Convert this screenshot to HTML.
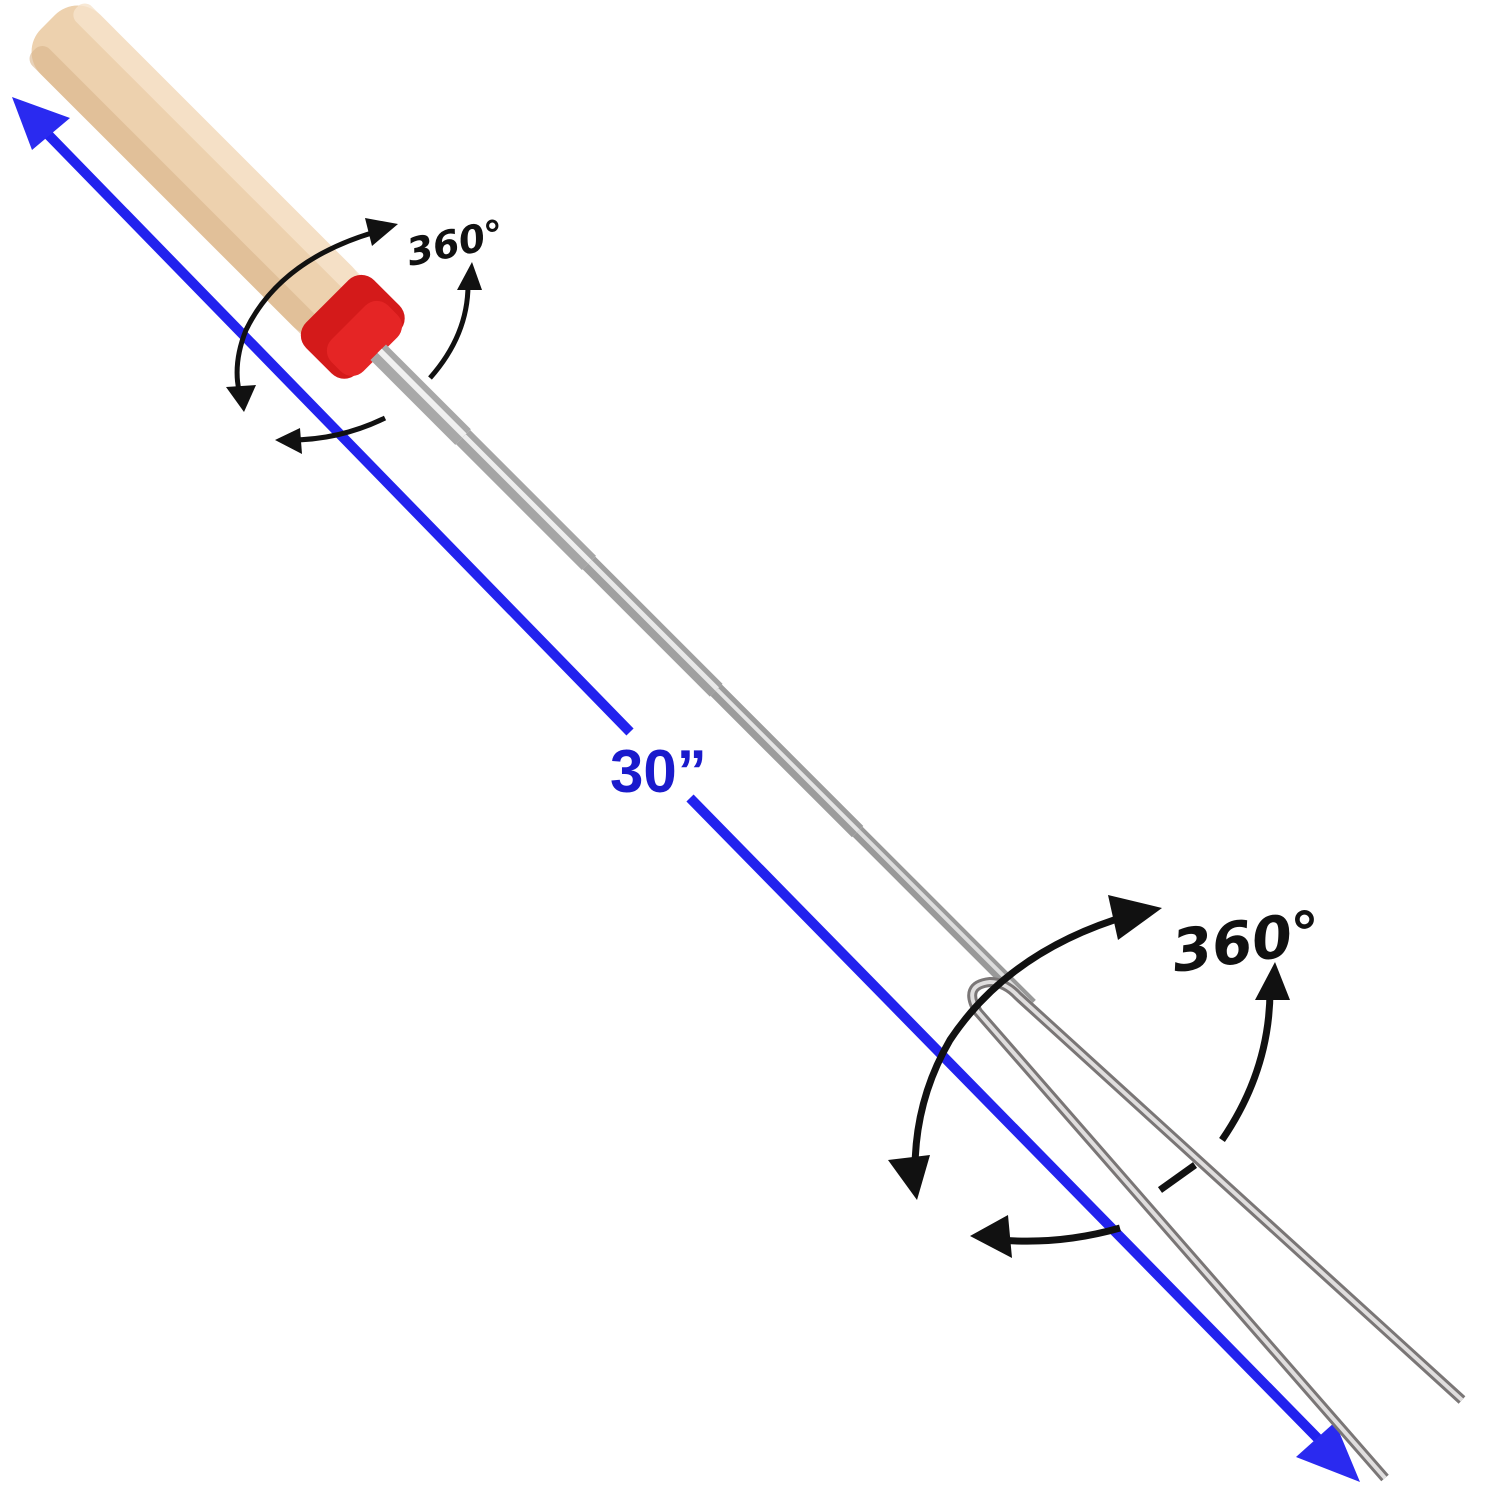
<!DOCTYPE html>
<html><head><style>html,body{margin:0;padding:0;background:#fff;}svg{display:block}</style></head>
<body>
<svg width="1500" height="1500" viewBox="0 0 1500 1500" xmlns="http://www.w3.org/2000/svg">
<!-- blue dimension line -->
<g stroke="#2222ee" stroke-width="10" fill="none">
<line x1="30" y1="116" x2="630" y2="732"/>
<line x1="690" y1="798" x2="1335" y2="1456"/>
</g>
<polygon points="12,97 70,118 32,150" fill="#2a2af0"/>
<polygon points="1360,1482 1296,1457 1335,1422" fill="#2a2af0"/>
<text x="610" y="792" font-family="Liberation Sans, sans-serif" font-weight="bold" font-size="60" fill="#1a1acc">30”</text>
<!-- handle -->
<g transform="translate(48,22) rotate(45)">
<rect x="0" y="-42" width="420" height="84" rx="32" fill="#edd1ae"/>
<rect x="10" y="-42" width="410" height="22" rx="10" fill="#f6e3cc" opacity="0.8"/>
<rect x="10" y="18" width="410" height="24" rx="10" fill="#d9b48a" opacity="0.6"/>
<rect x="395" y="-48" width="72" height="96" rx="18" fill="#d41a1a"/>
<rect x="425" y="-40" width="45" height="80" rx="16" fill="#e52525"/>
<!-- rod -->
<rect x="467" y="-11" width="120" height="22" fill="#a8a8a8"/>
<rect x="467" y="-5" width="120" height="6" fill="#f0f0f0"/>
<rect x="587" y="-10" width="178" height="20" fill="#a5a5a5"/>
<rect x="587" y="-4" width="178" height="5" fill="#eee"/>
<rect x="765" y="-9" width="180" height="18" fill="#a0a0a0"/>
<rect x="765" y="-4" width="180" height="5" fill="#e8e8e8"/>
<rect x="945" y="-8" width="200" height="16" fill="#9c9c9c"/>
<rect x="945" y="-3" width="200" height="4" fill="#e5e5e5"/>
<rect x="1145" y="-7" width="245" height="14" fill="#999"/>
<rect x="1145" y="-3" width="245" height="4" fill="#ddd"/>
</g>
<!-- fork -->
<path d="M1385,1478 L978,1012 Q962,985 990,982 Q1005,982 1018,996 L1462,1400" fill="none" stroke="#7a7676" stroke-width="10"/>
<path d="M1385,1478 L978,1012 Q962,985 990,982 Q1005,982 1018,996 L1462,1400" fill="none" stroke="#e0dede" stroke-width="4"/>
<!-- upper rotation arrows -->
<g stroke="#111" stroke-width="5" fill="none">
<path d="M375,232 Q280,260 246,330 Q232,365 240,395"/>
<path d="M430,378 Q468,335 468,285"/>
<path d="M385,418 Q340,440 290,440"/>
</g>
<g fill="#111">
<polygon points="398,224 365,218 372,246"/>
<polygon points="244,412 226,387 256,385"/>
<polygon points="472,262 457,290 482,290"/>
<polygon points="275,440 300,428 302,454"/>
</g>
<text transform="translate(410,266) rotate(-12)" font-family="DejaVu Sans, sans-serif" font-style="italic" font-weight="bold" font-size="38" fill="#111">360°</text>
<!-- lower rotation arrows -->
<g stroke="#111" stroke-width="7" fill="none">
<path d="M1130,915 Q1010,950 950,1040 Q915,1100 915,1170"/>
<path d="M1160,1190 L1195,1165"/>
<path d="M1222,1140 Q1270,1070 1270,990"/>
<path d="M1120,1228 Q1060,1245 1000,1240"/>
</g>
<g fill="#111">
<polygon points="1162,908 1108,895 1118,940"/>
<polygon points="917,1200 888,1160 930,1155"/>
<polygon points="1275,962 1255,1000 1290,1000"/>
<polygon points="970,1236 1008,1215 1012,1258"/>
</g>
<text transform="translate(1175,972) rotate(-8)" font-family="DejaVu Sans, sans-serif" font-style="italic" font-weight="bold" font-size="58" fill="#111">360°</text>
</svg>
</body></html>
